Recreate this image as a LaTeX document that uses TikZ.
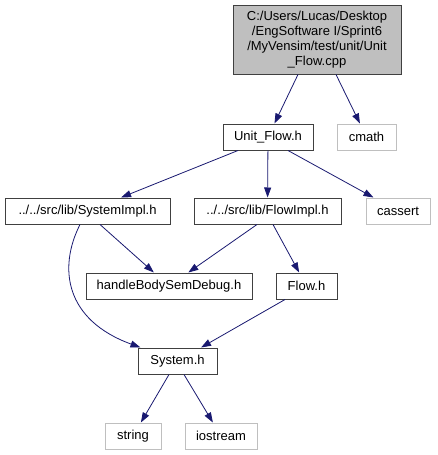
\documentclass[tikz,border=0pt]{standalone}
\usepackage{fontspec}
\setmainfont{Liberation Sans}
\usetikzlibrary{arrows.meta}
\definecolor{EdgeBlue}{HTML}{191970}
\definecolor{FrameGray}{HTML}{404040}
\definecolor{SoftGray}{HTML}{BFBFBF}

\begin{document}
\begin{tikzpicture}[x=1pt,y=-1pt,>={Triangle[length=10pt,width=7pt]}]
    \tikzstyle{box}=[draw=FrameGray,line width=1pt,fill=white,inner sep=1pt,minimum height=26pt,font=\fontsize{13}{15}\selectfont]
    \tikzstyle{sysbox}=[box,draw=SoftGray]
    \tikzstyle{dep}=[->,draw=EdgeBlue,line width=.8pt]
    \useasboundingbox (0,0) rectangle (437,455);
    \node[box,fill=SoftGray,align=center,minimum width=168pt,minimum height=69pt] (unitcpp) at (317,39.5)
        {C:/Users/Lucas/Desktop\\/EngSoftware I/Sprint6\\/MyVensim/test/unit/Unit\\\_Flow.cpp};
    \node[box,minimum width=90pt]     (unitflow) at (268,137)   {Unit\_Flow.h};
    \node[sysbox,minimum width=59pt]  (cmath)    at (366.5,137) {cmath};
    \node[box,minimum width=165pt]    (sysimpl)  at (87.5,211)  {../../src/lib/SystemImpl.h};
    \node[box,minimum width=147pt]    (flowimpl) at (267.5,211) {../../src/lib/FlowImpl.h};
    \node[sysbox,minimum width=64pt]  (cassert)  at (398,211)   {cassert};
    \node[box,minimum width=166pt]    (handle)   at (169,286)   {handleBodySemDebug.h};
    \node[box,minimum width=61pt]     (flowh)    at (306.5,286) {Flow.h};
    \node[box,minimum width=79pt]     (systemh)  at (177.5,361) {System.h};
    \node[sysbox,minimum width=56pt]  (string)   at (133,436)   {string};
    \node[sysbox,minimum width=72pt]  (iostream) at (221,436)   {iostream};
    \draw[dep] ([xshift=-19pt]unitcpp.south) -- (unitflow);
    \draw[dep] ([xshift=19pt]unitcpp.south) -- (cmath);
    \draw[dep] ([xshift=-30pt]unitflow.south) -- (sysimpl);
    \draw[dep] (unitflow) -- (flowimpl);
    \draw[dep] ([xshift=20pt]unitflow.south) -- (cassert);
    \draw[dep] ([xshift=12.5pt]sysimpl.south) -- (handle);
    \draw[dep] ([xshift=-7.5pt]sysimpl.south) .. controls (58,268) and (65,320) .. (systemh);
    \draw[dep] ([xshift=-10.5pt]flowimpl.south) -- (handle);
    \draw[dep] ([xshift=5.5pt]flowimpl.south) -- (flowh);
    \draw[dep] ([xshift=-21.5pt]flowh.south) -- (systemh);
    \draw[dep] ([xshift=-8.5pt]systemh.south) -- (string);
    \draw[dep] ([xshift=6.5pt]systemh.south) -- (iostream);
  \end{tikzpicture}
\end{document}
